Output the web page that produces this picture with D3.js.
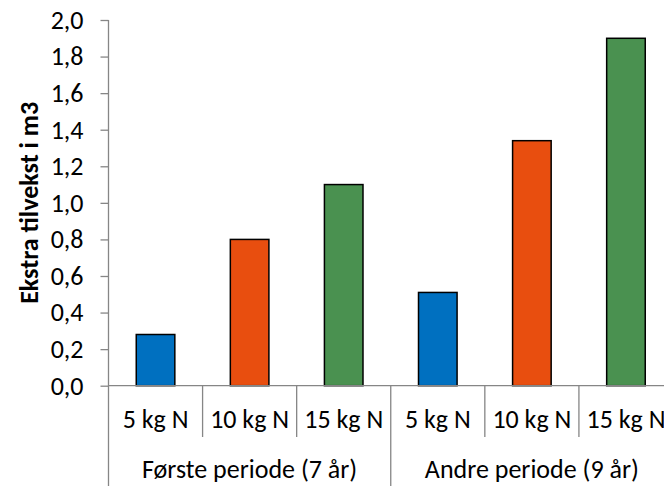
<!DOCTYPE html>
<html>
<head>
<meta charset="utf-8">
<script src="https://cdn.jsdelivr.net/npm/d3@7"></script>
<style>
  html, body { margin: 0; padding: 0; background: #ffffff; }
  svg { display: block; }
  text { font-family: Carlito, Calibri, Lato, sans-serif; fill: #000; }
</style>
</head>
<body>
<svg id="chart" width="664" height="486"></svg>
<script>
// Extra growth (m3) by nitrogen dose, for two periods
const periods = ["Første periode (7 år)", "Andre periode (9 år)"];
const doses = ["5 kg N", "10 kg N", "15 kg N"];
const firstPeriod = [0.28, 0.80, 1.10];
const secondPeriod = [0.51, 1.34, 1.90];
const doseColors = ["#0070C0", "#E84E0F", "#4A9150"];
const yTicks = [0, 0.2, 0.4, 0.6, 0.8, 1.0, 1.2, 1.4, 1.6, 1.8, 2.0];
const yTitle = "Ekstra tilvekst i m3";

const rows = [];
[firstPeriod, secondPeriod].forEach((vals, p) => {
  vals.forEach((v, d) => rows.push({ key: p + "|" + d, period: p, dose: d, value: v }));
});

const svg = d3.select("#chart");
const plotLeft = 108.5, plotRight = 673, plotTop = 20, plotBottom = 385.7;
const axisColor = "#868686";
const fontSize = 26;

const x = d3.scaleBand()
  .domain(rows.map(r => r.key))
  .range([plotLeft, plotRight])
  .paddingInner(0.59)
  .paddingOuter(0.295);
const step = x.step();

const y = d3.scaleLinear().domain([0, 2]).range([plotBottom, plotTop]);
const fmt = v => d3.format(".1f")(v).replace(".", ",");

// y axis
const yAxis = svg.append("g")
  .attr("transform", `translate(${plotLeft},0)`)
  .call(d3.axisLeft(y).tickValues(yTicks).tickFormat(fmt).tickSize(8).tickPadding(17));
yAxis.select(".domain").remove();
yAxis.selectAll(".tick line").attr("stroke", axisColor).attr("stroke-width", 1.3);
yAxis.selectAll(".tick text")
  .style("font-family", "Carlito, Calibri, Lato, sans-serif")
  .style("font-size", fontSize + "px")
  .attr("fill", "#000");

// bars
svg.append("g").selectAll("rect")
  .data(rows)
  .join("rect")
  .attr("x", d => x(d.key))
  .attr("width", x.bandwidth())
  .attr("y", d => y(d.value))
  .attr("height", d => y(0) - y(d.value))
  .attr("fill", d => doseColors[d.dose])
  .attr("stroke", "#000")
  .attr("stroke-width", 1.5);

// x axis line and category separators
const g = svg.append("g").attr("stroke", axisColor).attr("stroke-width", 1.3);
g.append("line").attr("x1", plotLeft).attr("x2", 664).attr("y1", plotBottom).attr("y2", plotBottom);
g.append("line").attr("x1", plotLeft).attr("x2", plotLeft).attr("y1", plotTop).attr("y2", 486);

rows.forEach(r => {
  const bx = x(r.key) - x.paddingInner() * step / 2 + step;
  const isGroupEnd = r.dose === doses.length - 1;
  g.append("line")
    .attr("x1", bx).attr("x2", bx)
    .attr("y1", plotBottom).attr("y2", isGroupEnd ? 486 : 437);
});

// dose labels
svg.append("g").selectAll("text")
  .data(rows)
  .join("text")
  .attr("x", d => x(d.key) + x.bandwidth() / 2)
  .attr("y", 428)
  .attr("text-anchor", "middle")
  .style("font-size", fontSize + "px")
  .text(d => doses[d.dose]);

// period labels
svg.append("g").selectAll("text")
  .data(periods)
  .join("text")
  .attr("x", (d, p) => {
    const first = x(p + "|0") - x.paddingInner() * step / 2;
    return first + step * doses.length / 2;
  })
  .attr("y", 478)
  .attr("text-anchor", "middle")
  .style("font-size", fontSize + "px")
  .text(d => d);

// y title
svg.append("text")
  .attr("transform", `translate(38,${(plotTop + plotBottom) / 2}) rotate(-90)`)
  .attr("text-anchor", "middle")
  .style("font-size", fontSize + "px")
  .style("font-weight", "bold")
  .text(yTitle);
</script>
</body>
</html>
